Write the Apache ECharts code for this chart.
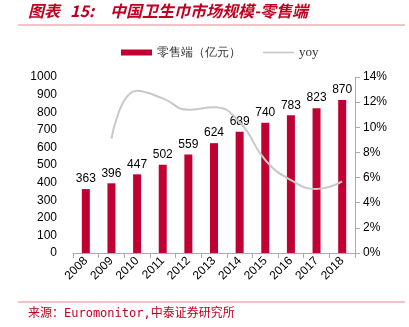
<!DOCTYPE html>
<html><head><meta charset="utf-8">
<script src="https://cdn.jsdelivr.net/npm/echarts@6/dist/echarts.min.js"></script>
<style>html,body{margin:0;padding:0;background:#fff}#c{width:409px;height:327px}</style>
</head><body><div id="c"></div>
<script>
var years = ['2008','2009','2010','2011','2012','2013','2014','2015','2016','2017','2018'];
var retail = [363,396,447,502,559,624,689,740,783,823,870];
var yoy = [null,9.1,12.9,12.3,11.4,11.6,10.4,7.4,5.8,5.1,5.7];
var leftTicks = ['0','100','200','300','400','500','600','700','800','900','1000'];
var rightTicks = ['0%','2%','4%','6%','8%','10%','12%','14%'];

var chart = echarts.init(document.getElementById('c'));
chart.setOption({
  animation:false,
  textStyle:{fontFamily:'Liberation Sans, Arial, sans-serif'},
  graphic:[
    {type:'text',left:28,top:3,style:{text:'图表',fill:'#C00020',font:'italic bold 16px "Noto Sans CJK SC", sans-serif'}},
    {type:'text',left:70,top:3,style:{text:'15:',fill:'#C00020',font:'italic bold 16px "Noto Sans CJK SC", sans-serif'}},
    {type:'text',left:110,top:3,style:{text:'中国卫生巾市场规模-零售端',fill:'#C00020',font:'italic bold 16px "Noto Sans CJK SC", sans-serif'}},
    {type:'line',shape:{x1:18,y1:25,x2:405,y2:25},style:{stroke:'#E8878A',lineWidth:1}},
    {type:'line',shape:{x1:18,y1:302,x2:405,y2:302},style:{stroke:'#E8878A',lineWidth:1}},
    {type:'text',left:28,top:308,style:{text:'来源：Euromonitor,中泰证券研究所',fill:'#C00020',font:'12px "DejaVu Sans Mono", "Noto Sans CJK SC", monospace'}}
  ],
  legend:{top:41,left:116,itemGap:22,itemWidth:31,itemHeight:6,
    textStyle:{fontSize:12,color:'#333'},
    data:[{name:'零售端（亿元）',icon:'rect'},
          {name:'yoy',icon:'path://M0,0 M0,2.2 L31,2.2 L31,3.8 L0,3.8 Z M31,6',itemStyle:{color:'#C8C8C8'},textStyle:{fontFamily:'Liberation Serif, serif',fontSize:13}}]},
  grid:{left:73,right:54,top:77,bottom:74},
  xAxis:{type:'category',data:years,
    axisLine:{lineStyle:{color:'#AAA'}},
    axisTick:{show:true,alignWithLabel:false,lineStyle:{color:'#AAA'}},
    axisLabel:{rotate:45,color:'#000',fontSize:12,margin:6}},
  yAxis:[
    {type:'value',min:0,max:1000,interval:100,
     axisLine:{show:false},axisTick:{show:false},splitLine:{show:false},
     axisLabel:{color:'#000',fontSize:12,margin:16,formatter:function(v){return leftTicks[v/100];}}},
    {type:'value',min:0,max:14,interval:2,
     axisLine:{show:true,lineStyle:{color:'#AAA'}},
     axisTick:{show:true,inside:false,length:5,lineStyle:{color:'#AAA'}},
     splitLine:{show:false},
     axisLabel:{color:'#000',fontSize:12,margin:8,formatter:function(v){return rightTicks[v/2];}}}
  ],
  series:[
    {name:'零售端（亿元）',type:'bar',data:retail,barWidth:8,
     itemStyle:{color:'#C00033'},
     label:{show:true,position:'top',color:'#000',fontSize:12,distance:4}},
    {name:'yoy',type:'line',yAxisIndex:1,data:yoy,smooth:true,showSymbol:false,symbol:'none',
     lineStyle:{color:'#C8C8C8',width:2},itemStyle:{color:'#C8C8C8'}}
  ]
});
</script></body></html>
